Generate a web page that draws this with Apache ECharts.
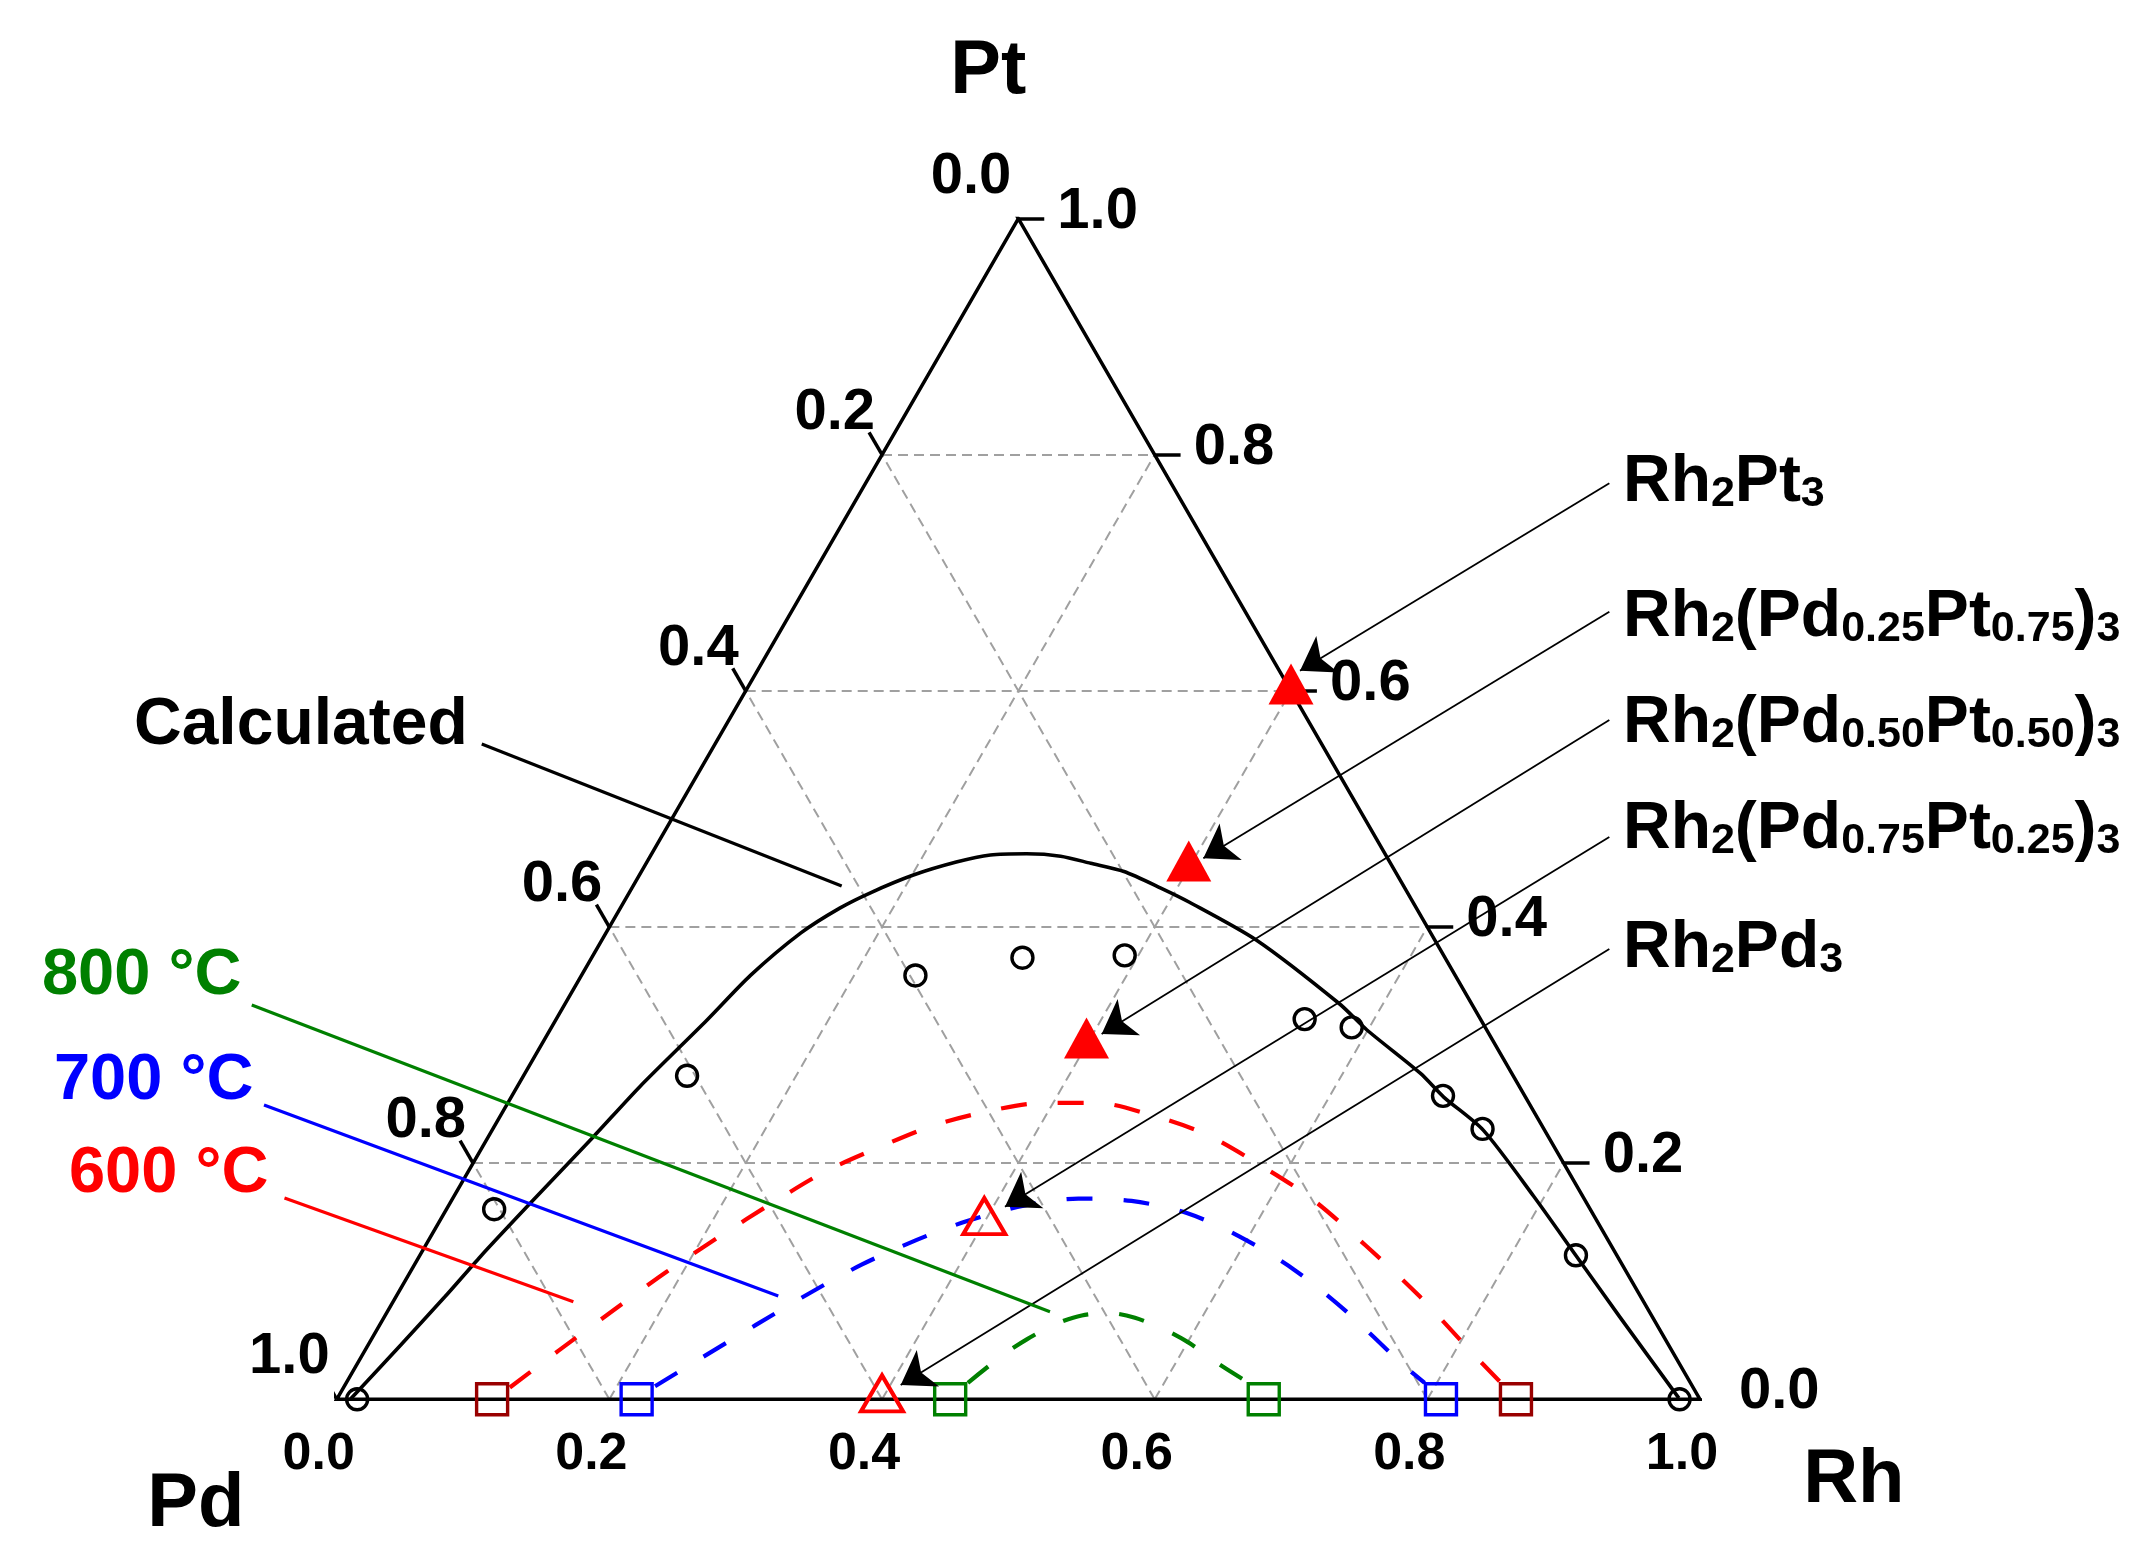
<!DOCTYPE html>
<html>
<head>
<meta charset="utf-8">
<title>Rh-Pd-Pt</title>
<script src="https://cdn.jsdelivr.net/npm/echarts@6/dist/echarts.min.js"></script>
<style>
  html, body { margin: 0; padding: 0; background: #fff; }
  #main { width: 2149px; height: 1564px; }
</style>
</head>
<body>
<div id="main"></div>
<script type="text/javascript">
// ternary points are [Rh, Pt] fractions, Pd = 1 - Rh - Pt
var ticks = [0, 0.2, 0.4, 0.6, 0.8, 1.0];
var tickLabels = ['0.0', '0.2', '0.4', '0.6', '0.8', '1.0'];
var gridLevels = [0.2, 0.4, 0.6, 0.8];

var calcCurve = [[0.010, 0.000], [0.024, 0.046], [0.036, 0.087], [0.045, 0.121], [0.058, 0.163],
  [0.077, 0.222], [0.090, 0.265], [0.111, 0.321], [0.124, 0.359], [0.143, 0.395],
  [0.161, 0.416], [0.177, 0.429], [0.201, 0.444], [0.227, 0.455], [0.249, 0.461], [0.275, 0.462],
  [0.301, 0.460], [0.326, 0.454], [0.354, 0.447], [0.388, 0.433], [0.415, 0.421], [0.480, 0.389],
  [0.568, 0.335], [0.599, 0.313], [0.657, 0.276], [0.684, 0.256], [0.727, 0.228], [0.792, 0.172],
  [0.849, 0.121], [0.906, 0.070], [0.984, 0.001]];

var expCircles = [[0.015, 0.000], [0.035, 0.161], [0.120, 0.274], [0.245, 0.359], [0.316, 0.374],
  [0.390, 0.376], [0.549, 0.322], [0.587, 0.315], [0.683, 0.257], [0.726, 0.229], [0.848, 0.122],
  [0.985, 0.000]];

var curve600 = [[0.122, 0.010], [0.142, 0.041], [0.165, 0.075], [0.188, 0.108], [0.212, 0.138],
  [0.237, 0.167], [0.262, 0.193], [0.292, 0.214], [0.322, 0.232], [0.356, 0.244], [0.392, 0.251],
  [0.432, 0.251], [0.476, 0.241], [0.524, 0.225], [0.575, 0.200], [0.630, 0.170], [0.690, 0.130],
  [0.751, 0.087], [0.811, 0.041], [0.847, 0.014]];
var curve700 = [[0.228, 0.011], [0.250, 0.035], [0.276, 0.063], [0.301, 0.089], [0.328, 0.114],
  [0.358, 0.135], [0.387, 0.151], [0.422, 0.164], [0.459, 0.170], [0.499, 0.168], [0.544, 0.158],
  [0.593, 0.138], [0.647, 0.110], [0.704, 0.074], [0.765, 0.031], [0.791, 0.014]];
var curve800 = [[0.456, 0.014], [0.470, 0.0375], [0.481, 0.051], [0.496, 0.064], [0.511, 0.071],
  [0.531, 0.073], [0.551, 0.069], [0.578, 0.059], [0.601, 0.048], [0.632, 0.030], [0.662, 0.014]];

// binary edge (Pt = 0) end points, Rh fraction
var squares600 = [0.114, 0.865];
var squares700 = [0.220, 0.810];
var squares800 = [0.450, 0.680];

var compoundNames = ['Rh2Pt3', 'Rh2(Pd0.25Pt0.75)3', 'Rh2(Pd0.50Pt0.50)3', 'Rh2(Pd0.75Pt0.25)3', 'Rh2Pd3'];
var compoundRh = [0.4, 0.4, 0.4, 0.4, 0.4];
var compoundPt = [0.6, 0.45, 0.30, 0.15, 0.0];
var compoundFilled = [true, true, true, false, false];

// annotations in plot units (side of triangle = 1)
var compoundLabelPos = [[0.9435, 0.6721], [0.9435, 0.5731], [0.9435, 0.4953], [0.9435, 0.4176], [0.9435, 0.3303]];
var compoundLeaders = [
  [[0.9335, 0.6719], [0.7066, 0.5344]],
  [[0.9335, 0.5777], [0.6357, 0.3968]],
  [[0.9335, 0.4983], [0.5611, 0.2680]],
  [[0.9335, 0.4125], [0.4902, 0.1413]],
  [[0.9335, 0.3303], [0.4137, 0.0105]]
];
var tempNames = ['800 °C', '700 °C', '600 °C'];
var tempColors = ['#008000', '#0000ff', '#ff0000'];
var tempLabelPos = [[-0.2162, 0.3105], [-0.2074, 0.2335], [-0.1964, 0.1653]];
var tempLeaders = [
  [[-0.0623, 0.2892], [0.5232, 0.0643]],
  [[-0.0533, 0.2159], [0.3239, 0.0758]],
  [[-0.0383, 0.1477], [0.1736, 0.0716]]
];
var calcLabelPos = [-0.1487, 0.4939];
var calcLeader = [[0.1064, 0.4807], [0.3704, 0.3765]];
var cornerNames = ['Pt', 'Pd', 'Rh'];
var cornerLabelPos = [[0.4779, 0.9732], [-0.1033, -0.0779], [1.1128, -0.0603]];

var H = Math.sqrt(3) / 2;
var tickLen = 0.019;
var FONT = '"Liberation Sans", Arial, sans-serif';

function tern(rh, pt) { return [rh + pt / 2, pt * H]; }
function ternList(list) { return list.map(function (p) { return tern(p[0], p[1]); }); }
function toRich(s) {
  var r = '{m|' + s.replace(/([0-9.]+)/g, '}{s|$1}{m|') + '}';
  return r.replace(/\{m\|\}/g, '');
}

// dashed grid
var gridSegs = [];
gridLevels.forEach(function (v) {
  gridSegs.push({ coords: [tern(0, v), tern(1 - v, v)] });   // Pt = v
  gridSegs.push({ coords: [tern(v, 0), tern(v, 1 - v)] });   // Rh = v
  gridSegs.push({ coords: [tern(1 - v, 0), tern(0, 1 - v)] }); // Pd = v
});

// ticks
var tickSegs = [];
ticks.forEach(function (t) {
  var b = tern(t, 0);
  tickSegs.push({ coords: [b, [b[0] - 0.5 * tickLen, b[1] - H * tickLen]] });
  var r = tern(1 - t, t);
  tickSegs.push({ coords: [r, [r[0] + tickLen, r[1]]] });
  var l = tern(0, 1 - t);
  tickSegs.push({ coords: [l, [l[0] - 0.5 * tickLen, l[1] + H * tickLen]] });
});

function labelSeries(data, label) {
  return {
    type: 'scatter', data: data, symbolSize: 1, clip: false, silent: true, z: 10,
    itemStyle: { color: 'rgba(0,0,0,0)', opacity: 1 },
    label: Object.assign({ show: true, position: 'inside', formatter: '{b}', color: '#000',
      fontFamily: FONT, fontWeight: 'bold' }, label)
  };
}

function squareData(list) { return list.map(function (rh) { return tern(rh, 0); }); }

var series = [];

series.push({
  type: 'lines', coordinateSystem: 'cartesian2d', data: gridSegs, silent: true, z: 1,
  lineStyle: { color: '#a0a0a0', width: 2, type: [10, 6], opacity: 1 }
});
series.push({
  type: 'line', data: [tern(0, 0), tern(1, 0), tern(0, 1), tern(0, 0)], showSymbol: false,
  silent: true, z: 2, lineStyle: { color: '#000', width: 3.5 }
});
series.push({
  type: 'lines', coordinateSystem: 'cartesian2d', data: tickSegs, silent: true, z: 2,
  lineStyle: { color: '#000', width: 3.5, opacity: 1 }
});

series.push({
  name: 'Calculated', type: 'line', data: ternList(calcCurve), smooth: 0.25, showSymbol: false,
  silent: true, z: 3, lineStyle: { color: '#000', width: 3.6 }
});
[curve800, curve700, curve600].forEach(function (c, i) {
  series.push({
    name: tempNames[i], type: 'line', data: ternList(c), smooth: 0.3, showSymbol: false,
    silent: true, z: 3, lineStyle: { color: tempColors[i], width: 4.2, type: [26, 31] }
  });
});

series.push({
  type: 'scatter', data: ternList(expCircles), symbol: 'circle', symbolSize: 21, silent: true, z: 4,
  itemStyle: { color: 'rgba(0,0,0,0)', borderColor: '#000', borderWidth: 3.4, opacity: 1 }
});
[[squares800, '#008000'], [squares700, '#0000ff'], [squares600, '#990000']].forEach(function (s) {
  series.push({
    type: 'scatter', data: squareData(s[0]), symbol: 'rect', symbolSize: 31, silent: true, z: 4, clip: false,
    itemStyle: { color: 'rgba(0,0,0,0)', borderColor: s[1], borderWidth: 3.4, opacity: 1 }
  });
});

var filled = [], open = [];
compoundNames.forEach(function (n, i) {
  var p = tern(compoundRh[i], compoundPt[i]);
  (compoundFilled[i] ? filled : open).push(p);
});
series.push({
  type: 'scatter', data: filled, symbol: 'triangle', symbolSize: [45, 41], symbolOffset: [0, -7],
  silent: true, z: 4, itemStyle: { color: '#ff0000', opacity: 1 }
});
series.push({
  type: 'scatter', data: open, symbol: 'triangle', symbolSize: [42, 36], symbolOffset: [0, -6],
  silent: true, z: 4, clip: false,
  itemStyle: { color: 'rgba(0,0,0,0)', borderColor: '#ff0000', borderWidth: 4, opacity: 1 }
});

// leaders
series.push({
  type: 'lines', coordinateSystem: 'cartesian2d', silent: true, z: 6, clip: false,
  data: compoundLeaders.map(function (c) { return { coords: c }; }),
  symbol: ['none', 'arrow'], symbolSize: [18, 32],
  lineStyle: { color: '#000', width: 1.8, opacity: 1 }
});
tempLeaders.forEach(function (c, i) {
  series.push({
    type: 'lines', coordinateSystem: 'cartesian2d', silent: true, z: 6, clip: false,
    data: [{ coords: c }], lineStyle: { color: tempColors[i], width: 3.2, opacity: 1 }
  });
});
series.push({
  type: 'lines', coordinateSystem: 'cartesian2d', silent: true, z: 6, clip: false,
  data: [{ coords: calcLeader }], lineStyle: { color: '#000', width: 3.2, opacity: 1 }
});

// tick labels
series.push(labelSeries(ticks.map(function (t, i) { return { value: tern(t, 0), name: tickLabels[i] }; }),
  { fontSize: 52, align: 'center', verticalAlign: 'middle', offset: [-18, 55] }));
series.push(labelSeries(ticks.map(function (t, i) { return { value: tern(1 - t, t), name: tickLabels[i] }; }),
  { fontSize: 58, align: 'left', verticalAlign: 'middle', offset: [39, -7] }));
series.push(labelSeries(ticks.map(function (t, i) { return { value: tern(0, 1 - t), name: tickLabels[i] }; }),
  { fontSize: 58, align: 'right', verticalAlign: 'middle', offset: [-7, -42] }));

// corner titles
series.push(labelSeries(cornerNames.map(function (n, i) { return { value: cornerLabelPos[i], name: n }; }),
  { fontSize: 76, align: 'center', verticalAlign: 'middle' }));

// compound labels
series.push(labelSeries(compoundNames.map(function (n, i) { return { value: compoundLabelPos[i], name: toRich(n) }; }),
  { align: 'left', verticalAlign: 'middle', formatter: function (p) { return p.name; },
    rich: {
      m: { fontSize: 66, lineHeight: 66, fontWeight: 'bold', fontFamily: FONT, color: '#000', verticalAlign: 'bottom' },
      s: { fontSize: 43, lineHeight: 43, fontWeight: 'bold', fontFamily: FONT, color: '#000', verticalAlign: 'bottom' }
    } }));

// temperature labels
tempNames.forEach(function (n, i) {
  series.push(labelSeries([{ value: tempLabelPos[i], name: n }],
    { fontSize: 65, align: 'left', verticalAlign: 'middle', color: tempColors[i] }));
});
series.push(labelSeries([{ value: calcLabelPos, name: 'Calculated' }],
  { fontSize: 66, align: 'left', verticalAlign: 'middle' }));

var myChart = echarts.init(document.getElementById('main'), null, { renderer: 'canvas' });
myChart.setOption({
  backgroundColor: '#fff',
  animation: false,
  grid: { left: 336.7, top: 218.6, width: 1363.3, height: 1180.7, containLabel: false },
  xAxis: { type: 'value', min: 0, max: 1, show: false },
  yAxis: { type: 'value', min: 0, max: H, show: false },
  series: series
});
</script>
</body>
</html>
